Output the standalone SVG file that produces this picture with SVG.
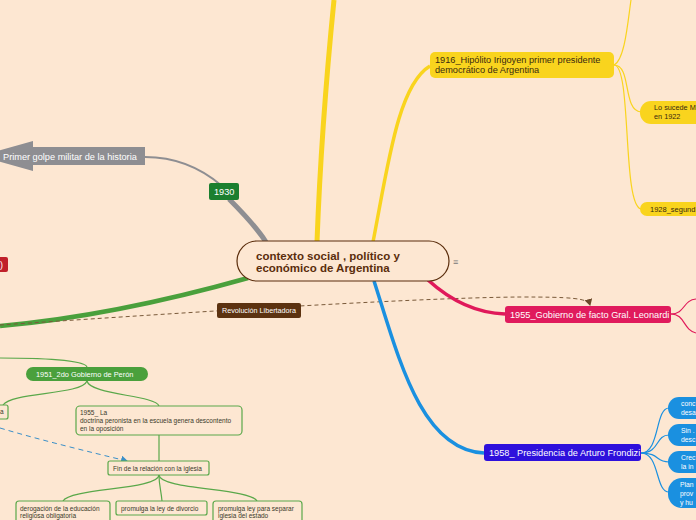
<svg xmlns="http://www.w3.org/2000/svg" width="696" height="520" viewBox="0 0 696 520">
<defs>
<style>
text{font-family:"Liberation Sans",Arial,sans-serif;}
.t9{font-size:9.2px;}
.w{fill:#ffffff;}
.d{fill:#3a2a10;}
.sm{font-size:6.5px;fill:#3a3a2a;}
.fc{font-size:6.8px;fill:#ffffff;}
.gbox{fill:#fde7d2;stroke:#5aa84a;stroke-width:1.2;}
.y{fill:none;stroke:#f9d41e;}
.g{fill:none;stroke:#5aa84a;stroke-width:1.2;}
.b{fill:none;stroke:#1a90e0;stroke-width:1.2;}
.p{fill:none;stroke:#e0195a;stroke-width:1.2;}
</style>
<marker id="ab" markerWidth="8" markerHeight="8" refX="6" refY="4" orient="auto" markerUnits="userSpaceOnUse">
<path d="M0,0 L7,4 L0,8 Z" fill="#6b4a2a"/>
</marker>
<marker id="abl" markerWidth="8" markerHeight="8" refX="6" refY="4" orient="auto" markerUnits="userSpaceOnUse">
<path d="M0,0 L7,4 L0,8 Z" fill="#3a8fc8"/>
</marker>
</defs>
<rect width="696" height="520" fill="#fde7d2"/>

<g id="connectors">
<path class="y" d="M317 242 C320 160 328 60 334 0" stroke-width="5"/>
<path class="y" d="M373 242 C388 165 398 85 430 66" stroke-width="3.5"/>
<path class="y" d="M614 65 C625 60 628 20 631 0" stroke-width="1.2"/>
<path class="y" d="M614 65 C632 65 622 110 641 112" stroke-width="1.2"/>
<path class="y" d="M614 65 C632 65 622 205 641 209" stroke-width="1.2"/>
<path d="M266 242 C255 225 240 210 229 199" fill="none" stroke="#8e8e92" stroke-width="5"/>
<path d="M222 186 C200 167 175 157 145 157" fill="none" stroke="#8e8e92" stroke-width="2"/>
<path d="M248 278 C170 300 90 318 0 326" fill="none" stroke="#4aa03c" stroke-width="4.5"/>
<path d="M0 325 C150 315 400 298 520 297 C570 297 588 298 590 305" fill="none" stroke="#7a5a3a" stroke-width="1" stroke-dasharray="4,3" marker-end="url(#ab)"/>
<path d="M428 280 C450 300 475 313 505 314" fill="none" stroke="#e0195a" stroke-width="3.5"/>
<path class="p" d="M671 314 C685 314 683 300 696 299"/>
<path class="p" d="M671 314 C685 314 683 330 696 333"/>
<path d="M374 281 C398 355 420 450 484 453" fill="none" stroke="#1a90e0" stroke-width="3.5"/>
<path class="b" d="M641 453 C660 453 655 408 669 408"/>
<path class="b" d="M641 453 C660 453 655 435 669 435"/>
<path class="b" d="M641 453 C660 453 655 462 669 462"/>
<path class="b" d="M641 453 C660 453 655 492 669 492"/>
<path class="g" d="M0 358 C40 358 85 360 87 367"/>
<path class="g" d="M87 381 C82 395 12 392 3 405"/>
<path class="g" d="M87 381 C90 395 155 395 159 406"/>
<path class="g" d="M159 435 L159 461"/>
<path class="g" d="M159 475 C158 490 70 488 63 501"/>
<path class="g" d="M159 475 C159 485 161 490 162 501"/>
<path class="g" d="M159 475 C160 490 250 488 257 501"/>
<path d="M0 428 C40 440 90 452 127 461" fill="none" stroke="#3a8fc8" stroke-width="1" stroke-dasharray="5,4" marker-end="url(#abl)"/>
</g>

<g id="central">
<rect x="237" y="241" width="212" height="40" rx="20" fill="#fde7d2" stroke="#5a2d0c" stroke-width="1.2"/>
<text x="256" y="260" font-size="11.5" font-weight="bold" fill="#5a2d0c">contexto social , político y</text>
<text x="256" y="272" font-size="11.5" font-weight="bold" fill="#5a2d0c">económico de Argentina</text>
<text x="453" y="265" font-size="9" fill="#777">≡</text>
</g>

<g id="n1916">
<rect x="430" y="52" width="184" height="26" rx="5" fill="#f9d41e"/>
<text class="t9 d" x="435" y="63">1916_Hipólito Irigoyen primer presidente</text>
<text class="t9 d" x="435" y="73">democrático de Argentina</text>
</g>
<g id="nsucede">
<rect x="640" y="101" width="70" height="23" rx="11" fill="#f9d41e"/>
<text class="d" x="654" y="110" font-size="7.3">Lo sucede M</text>
<text class="d" x="654" y="119" font-size="7.3">en 1922</text>
</g>
<g id="n1928">
<rect x="640" y="202" width="70" height="14" rx="7" fill="#f9d41e"/>
<text class="d" x="650" y="212" font-size="7.5">1928_segund</text>
</g>

<g id="n1930">
<rect x="209" y="183" width="30" height="17" rx="2" fill="#1b7f2f"/>
<text class="t9 w" x="214" y="195">1930</text>
</g>
<g id="ngolpe">
<path d="M-20 156 L33 141 L33 147 L145 147 L145 165 L33 165 L33 171 Z" fill="#8e8e92"/>
<text class="t9 w" x="3" y="160">Primer golpe militar de la historia</text>
</g>

<g id="nred">
<rect x="-10" y="257" width="18" height="15" rx="2" fill="#c0202a"/>
<text class="w" x="0" y="268" font-size="9">)</text>
</g>

<g id="nrevolucion">
<rect x="217" y="303" width="84" height="15" rx="2" fill="#5c3210"/>
<text class="w" x="222" y="313" font-size="7.2">Revolución Libertadora</text>
</g>

<g id="n1955">
<rect x="505" y="306" width="166" height="17" rx="3" fill="#e01b5d"/>
<text class="t9 w" x="510" y="317.5">1955_Gobierno de facto Gral. Leonardi</text>
</g>

<g id="n1958">
<rect x="484" y="444" width="157" height="17" rx="3" fill="#2e10dc"/>
<text class="t9 w" x="489" y="456">1958_ Presidencia de Arturo Frondizi</text>
</g>
<g id="nf1">
<rect x="668" y="397" width="50" height="22" rx="11" fill="#1a90e0"/>
<text class="fc" x="681" y="406">conc</text>
<text class="fc" x="681" y="415">desa</text>
</g>
<g id="nf2">
<rect x="668" y="424" width="50" height="22" rx="11" fill="#1a90e0"/>
<text class="fc" x="681" y="433">Sin .</text>
<text class="fc" x="681" y="442">desc</text>
</g>
<g id="nf3">
<rect x="668" y="451" width="50" height="22" rx="11" fill="#1a90e0"/>
<text class="fc" x="681" y="460">Crec</text>
<text class="fc" x="681" y="469">la in</text>
</g>
<g id="nf4">
<rect x="668" y="478" width="50" height="30" rx="14" fill="#1a90e0"/>
<text class="fc" x="680" y="487">Plan</text>
<text class="fc" x="680" y="496">prov</text>
<text class="fc" x="680" y="505">y hu</text>
</g>

<g id="n1951">
<rect x="26" y="367" width="122" height="14" rx="7" fill="#4aa03c"/>
<text class="w" x="36" y="377" font-size="7.4">1951_2do Gobierno de Perón</text>
</g>
<g id="na">
<rect x="-10" y="405" width="18" height="14" rx="2" class="gbox"/>
<text class="sm" x="0" y="414">a</text>
</g>
<g id="ndoctrina">
<rect x="76" y="406" width="166" height="29" rx="4" class="gbox"/>
<text class="sm" x="80" y="415">1955_ La</text>
<text class="sm" x="80" y="423">doctrina peronista en la escuela genera descontento</text>
<text class="sm" x="80" y="431">en la oposición</text>
</g>
<g id="nfin">
<rect x="108" y="461" width="101" height="14" rx="2" class="gbox"/>
<text class="sm" x="113" y="470.5">Fin de la relación con la iglesia</text>
</g>
<g id="nderog">
<rect x="16" y="501" width="94" height="25" rx="3" class="gbox"/>
<text class="sm" x="20" y="510.5">derogación de  la educación</text>
<text class="sm" x="20" y="518">religiosa obligatoria</text>
</g>
<g id="ndivorcio">
<rect x="116" y="501" width="91" height="14" rx="2" class="gbox"/>
<text class="sm" x="121" y="510.5">promulga la ley de divorcio</text>
</g>
<g id="nseparar">
<rect x="213" y="501" width="89" height="25" rx="3" class="gbox"/>
<text class="sm" x="218" y="510.5">promulga ley para separar</text>
<text class="sm" x="218" y="518">iglesia del estado</text>
</g>
</svg>
